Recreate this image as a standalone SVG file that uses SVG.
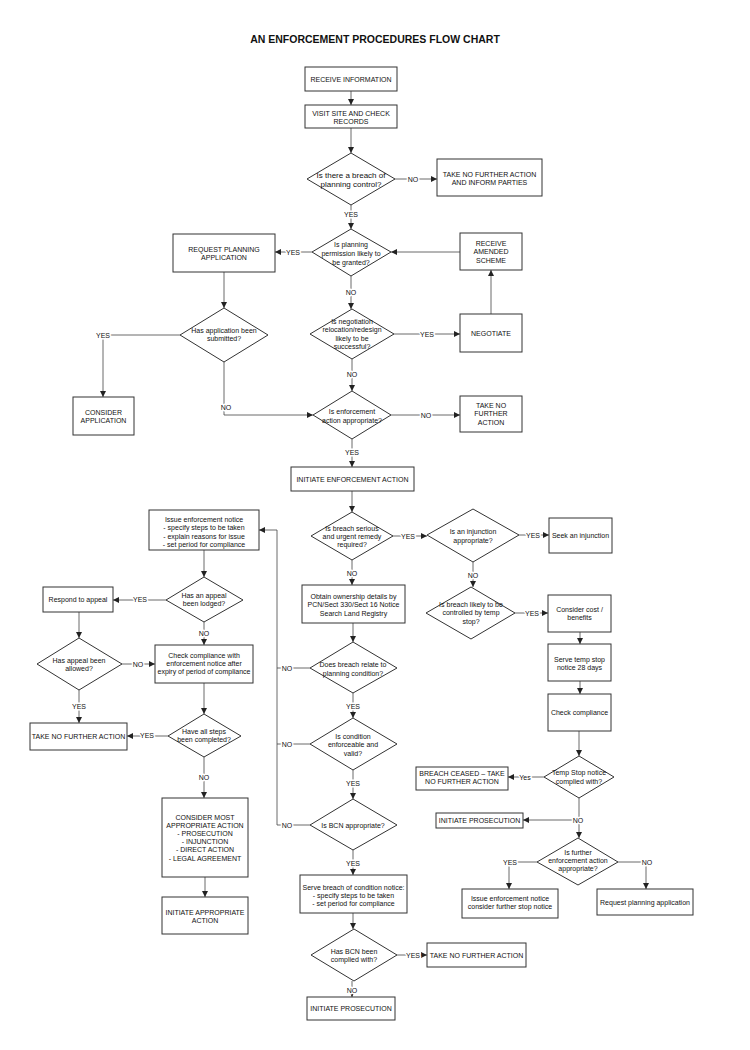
<svg xmlns="http://www.w3.org/2000/svg" width="750" height="1050" viewBox="0 0 750 1050">
<style>
.bg{fill:#fff}
.box{fill:#fff;stroke:#333;stroke-width:1}
text{font-family:"Liberation Sans",Arial,sans-serif;font-size:7px;fill:#111;text-anchor:middle}
.title{font-size:10.5px;font-weight:bold}
.big{font-size:8px}
.c{fill:none;stroke:#444;stroke-width:0.8}
.a{marker-end:url(#ah)}
.lbl{paint-order:stroke;stroke:#fff;stroke-width:3px;stroke-linejoin:round}
</style>
<defs>
<marker id="ah" markerWidth="6" markerHeight="6" refX="6" refY="3" orient="auto" markerUnits="userSpaceOnUse">
<path d="M0,0 L6,3 L0,6 z" fill="#222"/>
</marker>
</defs>
<rect class="bg" x="0" y="0" width="750" height="1050"/>
<text class="title" x="375" y="43">AN ENFORCEMENT PROCEDURES FLOW CHART</text>

<g id="connectors">
<path class="c a" d="M351,91 V105"/>
<path class="c a" d="M351,128 V153"/>
<path class="c a" d="M395,179 H437"/>
<path class="c a" d="M351,205 V229"/>
<path class="c a" d="M312,252 H275"/>
<path class="c a" d="M460,252 H391"/>
<path class="c a" d="M351,276 V309"/>
<path class="c a" d="M394,334 H460"/>
<path class="c a" d="M491,314 V270"/>
<path class="c a" d="M352,359 V391"/>
<path class="c a" d="M391,415 H460"/>
<path class="c a" d="M224,272 V308"/>
<path class="c a" d="M180,335 H103 V397"/>
<path class="c a" d="M224,362 V415 H313"/>
<path class="c a" d="M352,439 V467"/>
<path class="c a" d="M352,491 V512"/>
<path class="c a" d="M393,536 H427"/>
<path class="c a" d="M519,535 H549"/>
<path class="c a" d="M352,560 V585"/>
<path class="c a" d="M473,562 V587"/>
<path class="c a" d="M515,613 H548"/>
<path class="c a" d="M580,632 V644"/>
<path class="c a" d="M580,681 V694"/>
<path class="c a" d="M579,731 V756"/>
<path class="c a" d="M544,777 H508"/>
<path class="c a" d="M579,798 V838"/>
<path class="c a" d="M579,820 H523"/>
<path class="c a" d="M537,862 H509 V889"/>
<path class="c a" d="M618,862 H646 V889"/>
<path class="c a" d="M353,623 V642"/>
<path class="c" d="M310,668 H277"/>
<path class="c a" d="M353,693 V718"/>
<path class="c" d="M310,744 H277"/>
<path class="c a" d="M353,770 V799"/>
<path class="c a" d="M310,825 H277 V530 H259"/>
<path class="c a" d="M353,850 V875"/>
<path class="c a" d="M353,913 V929"/>
<path class="c a" d="M397,955 H427"/>
<path class="c a" d="M352,981 V997"/>
<path class="c a" d="M204,550 V577"/>
<path class="c a" d="M166,600 H113"/>
<path class="c a" d="M79,612 V638"/>
<path class="c a" d="M122,664 H155"/>
<path class="c a" d="M204,622 V645"/>
<path class="c a" d="M204,683 V714"/>
<path class="c a" d="M168,736 H127"/>
<path class="c a" d="M79,690 V723"/>
<path class="c a" d="M204,757 V798"/>
<path class="c a" d="M205,877 V897"/>
<g id="labels">
<text class="lbl" x="413" y="181.5">NO</text>
<text class="lbl" x="351" y="216.5">YES</text>
<text class="lbl" x="293" y="254.5">YES</text>
<text class="lbl" x="351" y="294.5">NO</text>
<text class="lbl" x="427" y="336.5">YES</text>
<text class="lbl" x="352" y="376.5">NO</text>
<text class="lbl" x="426" y="417.5">NO</text>
<text class="lbl" x="103" y="337.5">YES</text>
<text class="lbl" x="226" y="409.5">NO</text>
<text class="lbl" x="352" y="454.5">YES</text>
<text class="lbl" x="408" y="538.5">YES</text>
<text class="lbl" x="533" y="537.5">YES</text>
<text class="lbl" x="352" y="575.5">NO</text>
<text class="lbl" x="473" y="577.5">NO</text>
<text class="lbl" x="532" y="615.5">YES</text>
<text class="lbl" x="525" y="779.5">Yes</text>
<text class="lbl" x="578" y="822.5">NO</text>
<text class="lbl" x="510" y="864.5">YES</text>
<text class="lbl" x="647" y="864.5">NO</text>
<text class="lbl" x="287" y="670.5">NO</text>
<text class="lbl" x="353" y="708.5">YES</text>
<text class="lbl" x="287" y="746.5">NO</text>
<text class="lbl" x="353" y="785.5">YES</text>
<text class="lbl" x="287" y="827.5">NO</text>
<text class="lbl" x="353" y="865.5">YES</text>
<text class="lbl" x="413" y="957.5">YES</text>
<text class="lbl" x="352" y="992.5">NO</text>
<text class="lbl" x="140" y="602">YES</text>
<text class="lbl" x="138" y="666.5">NO</text>
<text class="lbl" x="204" y="635.5">NO</text>
<text class="lbl" x="147" y="738">YES</text>
<text class="lbl" x="79" y="708.5">YES</text>
<text class="lbl" x="204" y="779.5">NO</text>
</g>
</g>

<g id="n1"><rect class="box" x="305" y="67" width="92" height="24"/><text x="351" y="81.5">RECEIVE INFORMATION</text></g>
<g id="n2"><rect class="box" x="305" y="105" width="92" height="23"/><text x="351" y="115.5">VISIT SITE AND CHECK</text><text x="351" y="123.5">RECORDS</text></g>
<g id="d1"><polygon class="box" points="351,153 395,179 351,205 307,179"/><text class="big" x="351" y="178">Is there a breach of</text><text class="big" x="351" y="187">planning control?</text></g>
<g id="n3"><rect class="box" x="437" y="159" width="105" height="37"/><text x="489.5" y="176.5">TAKE NO FURTHER ACTION</text><text x="489.5" y="184.5">AND INFORM PARTIES</text></g>
<g id="d2"><polygon class="box" points="351,229 391,252 351,276 312,252"/><text x="351" y="246.5">Is planning</text><text x="351" y="255.5">permission likely to</text><text x="351" y="264.5">be granted?</text></g>
<g id="n4"><rect class="box" x="173" y="234" width="102" height="38"/><text x="224" y="251.5">REQUEST PLANNING</text><text x="224" y="259.5">APPLICATION</text></g>
<g id="n5"><rect class="box" x="460" y="233" width="62" height="37"/><text x="491" y="245.5">RECEIVE</text><text x="491" y="254">AMENDED</text><text x="491" y="262.5">SCHEME</text></g>
<g id="d3"><polygon class="box" points="352,309 394,334 352,359 310,334"/><text x="352" y="323.5">Is negotiation</text><text x="352" y="332">relocation/redesign</text><text x="352" y="340.5">likely to be</text><text x="352" y="349">successful?</text></g>
<g id="n6"><rect class="box" x="460" y="314" width="62" height="38"/><text x="491" y="335.5">NEGOTIATE</text></g>
<g id="d4"><polygon class="box" points="352,391 391,415 352,439 313,415"/><text x="352" y="413.5">Is enforcement</text><text x="352" y="422.5">action appropriate?</text></g>
<g id="n7"><rect class="box" x="460" y="396" width="62" height="36"/><text x="491" y="407.5">TAKE NO</text><text x="491" y="416">FURTHER</text><text x="491" y="424.5">ACTION</text></g>
<g id="d5"><polygon class="box" points="224,308 268,335 224,362 180,335"/><text x="224" y="332.5">Has application been</text><text x="224" y="340.5">submitted?</text></g>
<g id="n8"><rect class="box" x="73" y="397" width="61" height="38"/><text x="103.5" y="414.5">CONSIDER</text><text x="103.5" y="423">APPLICATION</text></g>
<g id="n9"><rect class="box" x="291" y="467" width="123" height="24"/><text x="352.5" y="481.5">INITIATE ENFORCEMENT ACTION</text></g>
<g id="d6"><polygon class="box" points="352,512 393,536 352,560 311,536"/><text x="352" y="530.5">Is breach serious</text><text x="352" y="538.5">and urgent remedy</text><text x="352" y="546.5">required?</text></g>
<g id="d7"><polygon class="box" points="473,509 519,535 473,562 427,535"/><text x="473" y="533.5">Is an injunction</text><text x="473" y="542.5">appropriate?</text></g>
<g id="n10"><rect class="box" x="549" y="518" width="63" height="35"/><text x="580.5" y="537.5">Seek an injunction</text></g>
<g id="n11"><rect class="box" x="302" y="585" width="103" height="38"/><text x="353.5" y="598.5">Obtain ownership details by</text><text x="353.5" y="607">PCN/Sect 330/Sect 16 Notice</text><text x="353.5" y="615.5">Search Land Registry</text></g>
<g id="d8"><polygon class="box" points="471,587 515,613 471,639 426,613"/><text x="471" y="606.5">Is breach likely to be</text><text x="471" y="615">controlled by temp</text><text x="471" y="623.5">stop?</text></g>
<g id="n12"><rect class="box" x="548" y="595" width="63" height="37"/><text x="579.5" y="611.5">Consider cost /</text><text x="579.5" y="619.5">benefits</text></g>
<g id="n13"><rect class="box" x="548" y="644" width="63" height="37"/><text x="579.5" y="661.5">Serve temp stop</text><text x="579.5" y="669.5">notice 28 days</text></g>
<g id="n14"><rect class="box" x="548" y="694" width="63" height="37"/><text x="579.5" y="714.5">Check compliance</text></g>
<g id="d9"><polygon class="box" points="579,756 614,777 579,798 544,777"/><text x="579" y="774.5">Temp Stop notice</text><text x="579" y="783.5">complied with?</text></g>
<g id="n15"><rect class="box" x="416" y="767" width="92" height="23"/><text x="462" y="776">BREACH CEASED – TAKE</text><text x="462" y="784">NO FURTHER ACTION</text></g>
<g id="n16"><rect class="box" x="436" y="813" width="87" height="15"/><text x="479.5" y="823">INITIATE PROSECUTION</text></g>
<g id="d10"><polygon class="box" points="578,838 618,862 578,885 537,862"/><text x="578" y="854.5">Is further</text><text x="578" y="862.5">enforcement action</text><text x="578" y="870.5">appropriate?</text></g>
<g id="n17"><rect class="box" x="462" y="889" width="96" height="29"/><text x="510" y="900.5">Issue enforcement notice</text><text x="510" y="908.5">consider further stop notice</text></g>
<g id="n18"><rect class="box" x="597" y="889" width="96" height="26"/><text x="645" y="904.5">Request planning application</text></g>
<g id="d11"><polygon class="box" points="353,642 397,668 353,693 310,668"/><text x="353" y="666.5">Does breach relate to</text><text x="353" y="675.5">planning condition?</text></g>
<g id="d12"><polygon class="box" points="353,718 397,744 353,770 310,744"/><text x="353" y="738.5">Is condition</text><text x="353" y="747">enforceable and</text><text x="353" y="755.5">valid?</text></g>
<g id="d13"><polygon class="box" points="353,799 397,825 353,850 310,825"/><text x="353" y="827.5">Is BCN appropriate?</text></g>
<g id="n19"><rect class="box" x="300" y="875" width="107" height="38"/><text x="353.5" y="889.5">Serve breach of condition notice:</text><text x="353.5" y="897.5">- specify steps to be taken</text><text x="353.5" y="905.5">- set period for compliance</text></g>
<g id="d14"><polygon class="box" points="354,929 397,955 354,981 311,955"/><text x="354" y="953.5">Has BCN been</text><text x="354" y="961.5">complied with?</text></g>
<g id="n20"><rect class="box" x="427" y="943" width="99" height="24"/><text x="476.5" y="957.5">TAKE NO FURTHER ACTION</text></g>
<g id="n21"><rect class="box" x="307" y="997" width="88" height="23"/><text x="351" y="1011">INITIATE PROSECUTION</text></g>
<g id="n22"><rect class="box" x="149" y="510" width="110" height="40"/><text x="204" y="521.5">Issue enforcement notice</text><text x="204" y="530">- specify steps to be taken</text><text x="204" y="538.5">- explain reasons for issue</text><text x="204" y="547">- set period for compliance</text></g>
<g id="d15"><polygon class="box" points="204,577 243,600 204,622 166,600"/><text x="204" y="597.5">Has an appeal</text><text x="204" y="606">been lodged?</text></g>
<g id="n23"><rect class="box" x="43" y="587" width="70" height="25"/><text x="78" y="601.5">Respond to appeal</text></g>
<g id="d16"><polygon class="box" points="79,638 122,664 79,690 37,664"/><text x="79" y="662.5">Has appeal been</text><text x="79" y="670.5">allowed?</text></g>
<g id="n24"><rect class="box" x="155" y="645" width="98" height="38"/><text x="204" y="657.5">Check compliance with</text><text x="204" y="665.5">enforcement notice after</text><text x="204" y="673.5">expiry of period of compliance</text></g>
<g id="d17"><polygon class="box" points="204,714 241,736 204,757 168,736"/><text x="204" y="734">Have all steps</text><text x="204" y="742">been completed?</text></g>
<g id="n25"><rect class="box" x="30" y="723" width="97" height="27"/><text x="78.5" y="739">TAKE NO FURTHER ACTION</text></g>
<g id="n26"><rect class="box" x="162" y="798" width="86" height="79"/><text x="205" y="819.5">CONSIDER MOST</text><text x="205" y="827.7">APPROPRIATE ACTION</text><text x="205" y="835.9">- PROSECUTION</text><text x="205" y="844.1">- INJUNCTION</text><text x="205" y="852.3">- DIRECT ACTION</text><text x="205" y="860.5">- LEGAL AGREEMENT</text></g>
<g id="n27"><rect class="box" x="162" y="897" width="86" height="37"/><text x="205" y="914.5">INITIATE APPROPRIATE</text><text x="205" y="922.5">ACTION</text></g>
</svg>
